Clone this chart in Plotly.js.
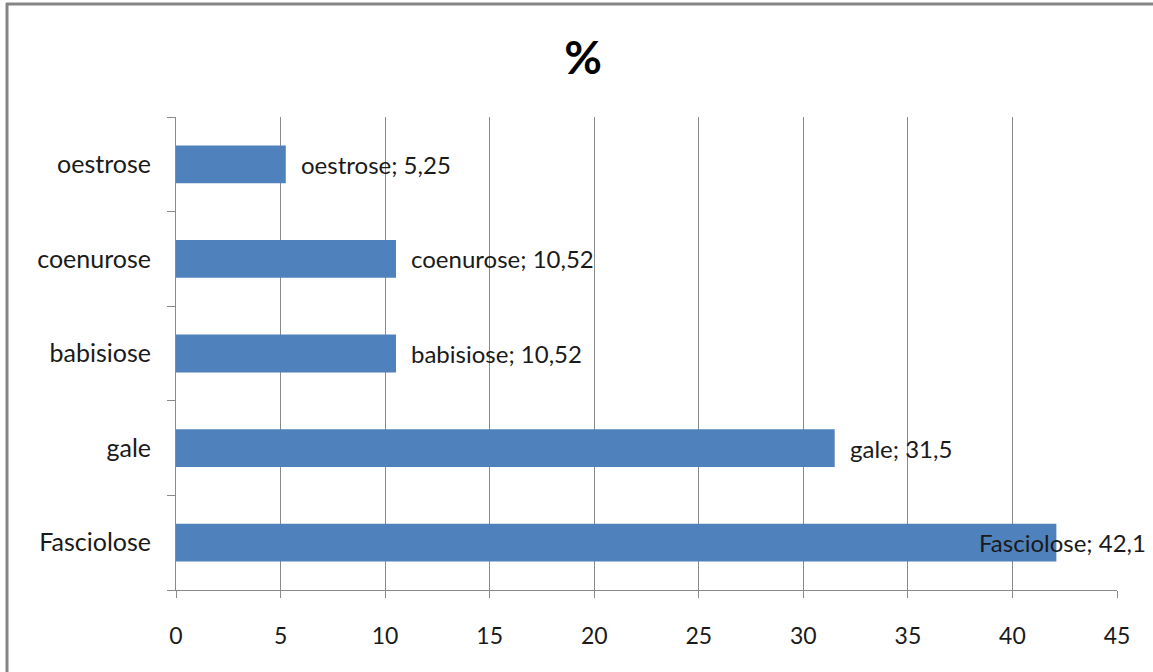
<!DOCTYPE html>
<html>
<head>
<meta charset="utf-8">
<script src="https://cdn.plot.ly/plotly-3.0.1.min.js"></script>
<style>
  html, body { margin: 0; padding: 0; background: #fff; }
  #chart { width: 1153px; height: 672px; }
</style>
</head>
<body>
<div id="chart"></div>
<script>
// Parasitic diseases, share in percent
const categories = ['Fasciolose', 'gale', 'babisiose', 'coenurose', 'oestrose'];
const percentValues = [42.1, 31.5, 10.52, 10.52, 5.25];
const xTickValues = [0, 5, 10, 15, 20, 25, 30, 35, 40, 45];

const W = 1153, H = 672;
const M = { l: 176, r: 36, t: 117, b: 82 };
const pw = W - M.l - M.r, ph = H - M.t - M.b;
const px = v => (v - M.l) / pw;          // page x -> paper x
const py = v => (H - M.b - v) / ph;      // page y -> paper y

const fontFamily = 'Lato, "Open Sans", "DejaVu Sans", sans-serif';
const textColor = '#1a1a1a';
const gridColor = '#8a8a8a';

const fmt = v => String(v).replace('.', ',');

const trace = {
  type: 'bar',
  orientation: 'h',
  x: percentValues,
  y: categories,
  marker: { color: '#4F81BD', line: { width: 0 } },
  hoverinfo: 'x+y'
};

// Data labels: "<category>; <value>" to the right of each bar;
// the longest bar keeps its label inside the chart frame.
const annotations = categories.map((c, i) => ({
  x: percentValues[i],
  y: c,
  xref: 'x', yref: 'y',
  text: c + '; ' + fmt(percentValues[i]),
  showarrow: false,
  xanchor: 'left',
  yanchor: 'middle',
  xshift: percentValues[i] > 40 ? -79 : 13,
  font: { family: fontFamily, size: 24, color: textColor }
}));

const layout = {
  width: W, height: H,
  margin: M,
  paper_bgcolor: '#ffffff',
  plot_bgcolor: '#ffffff',
  showlegend: false,
  bargap: 0.6,
  title: {
    text: '<b>%</b>',
    x: (583 / W), xref: 'container', xanchor: 'center',
    y: 1 - 58 / H, yref: 'container', yanchor: 'middle',
    font: { family: fontFamily, size: 46, color: '#000' }
  },
  xaxis: {
    range: [0, 45],
    tickvals: xTickValues,
    ticktext: xTickValues.map(String),
    showgrid: true, gridcolor: gridColor, gridwidth: 1,
    zeroline: false,
    showline: true, linecolor: gridColor, linewidth: 1,
    ticks: 'outside', ticklen: 7, tickcolor: gridColor,
    ticklabelstandoff: 18,
    tickfont: { family: fontFamily, size: 23, color: textColor },
    fixedrange: true
  },
  yaxis: {
    type: 'category',
    categoryorder: 'array',
    categoryarray: categories,
    showgrid: false,
    zeroline: false,
    showline: true, linecolor: gridColor, linewidth: 1,
    ticks: 'outside', ticklen: 8, tickcolor: gridColor,
    tickson: 'boundaries',
    ticklabelstandoff: 19,
    tickfont: { family: fontFamily, size: 25, color: textColor },
    fixedrange: true
  },
  annotations: annotations,
  // Chart frame (left and top edges)
  shapes: [
    { type: 'line', xref: 'paper', yref: 'paper',
      x0: px(7), x1: px(7), y0: py(3), y1: py(H + 5),
      line: { color: '#858585', width: 3 } },
    { type: 'line', xref: 'paper', yref: 'paper',
      x0: px(6), x1: px(W + 5), y0: py(4), y1: py(4),
      line: { color: '#858585', width: 3 } }
  ]
};

Plotly.newPlot('chart', [trace], layout, { displayModeBar: false, staticPlot: true });
</script>
</body>
</html>
